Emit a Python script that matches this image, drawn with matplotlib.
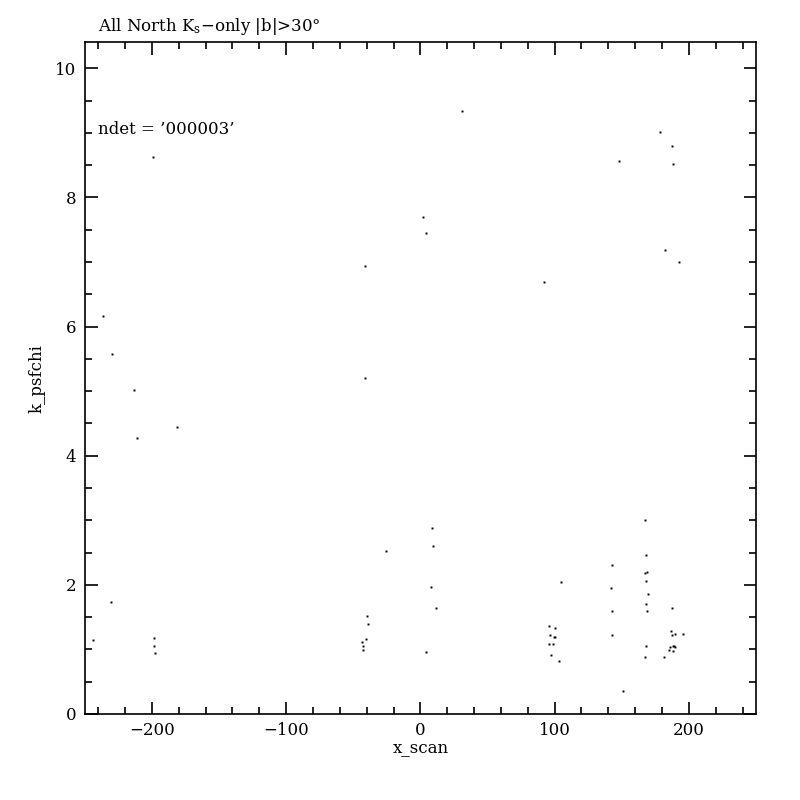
import matplotlib

# Use non-GUI backend
matplotlib.use('Agg')

import matplotlib.pyplot as plt
from matplotlib.ticker import MultipleLocator

# -----------------------------
# DATA
# -----------------------------

x_scan = [
    -236.6, -229.9, -213.4, -181.3, -211.2,
    -230.8, -244.0, -198.7, -198.7, -197.8, -199.5,
    9.0, 9.7, -25.4, 8.2, 11.9, -39.6, -38.8, -40.3, -43.3, -42.5, -42.5, 4.5,
    167.2, 167.7, 142.5, 167.2, 168.7, 104.5, 167.7, 142.0, 169.2, 167.7,
    142.5, 168.7, 187.3, 95.7, 100.0, 186.6, 96.3, 99.3, 100.0, 187.3,
    189.6, 195.5, 142.5, 95.5, 98.5, 167.7, 188.1, 188.8, 189.6, 185.8,
    185.1, 188.1, 97.0, 167.2, 181.3, 103.0, 150.7,
    31.3, 178.4, 187.3, 147.8, 188.1, 2.2, 4.5, 182.1, 192.5, 91.8,
    -41.0, -41.5,
]

k_psfchi = [
    6.17, 5.58, 5.02, 4.45, 4.28,
    1.73, 1.14, 1.18, 1.05, 0.94, 8.62,
    2.88, 2.60, 2.52, 1.96, 1.64, 1.51, 1.39, 1.16, 1.11, 1.05, 0.99, 0.96,
    3.00, 2.46, 2.31, 2.18, 2.20, 2.05, 2.06, 1.95, 1.86, 1.70,
    1.59, 1.59, 1.64, 1.36, 1.33, 1.28, 1.22, 1.20, 1.20, 1.22,
    1.24, 1.24, 1.22, 1.08, 1.08, 1.06, 1.06, 1.05, 1.03, 1.03,
    0.99, 0.97, 0.91, 0.88, 0.89, 0.82, 0.35,
    9.34, 9.02, 8.79, 8.57, 8.51, 7.70, 7.45, 7.19, 7.00, 6.69,
    6.93, 5.20,
]

title = "All North K$_\\mathregular{s}$\u2212only |b|>30\u00b0"
note = "ndet = \u2019000003\u2019"

plt.rcParams['font.family'] = ['DejaVu Serif']
plt.rcParams['mathtext.fontset'] = 'dejavuserif'

fig = plt.figure(figsize=(8, 8), dpi=100)
ax = fig.add_axes([0.106, 0.1075, 0.839, 0.8395])

ax.plot(x_scan, k_psfchi, linestyle='none', marker='s',
        markersize=1.4, markeredgewidth=0, color='black')

ax.set_xlim(-250, 250)
ax.set_ylim(0, 10.4)

ax.xaxis.set_major_locator(MultipleLocator(100))
ax.xaxis.set_minor_locator(MultipleLocator(20))
ax.yaxis.set_major_locator(MultipleLocator(2))
ax.yaxis.set_minor_locator(MultipleLocator(0.5))

ax.tick_params(which='both', direction='in', top=True, right=True,
               width=1.2, labelsize=12, pad=6)
ax.tick_params(which='major', length=9)
ax.tick_params(which='minor', length=5)

for spine in ax.spines.values():
    spine.set_linewidth(1.2)

ax.set_xlabel("x_scan", fontsize=12, labelpad=0)
ax.set_ylabel("k_psfchi", fontsize=12, labelpad=7)

ax.text(0.02, 1.008, title, transform=ax.transAxes,
        fontsize=12, ha='left', va='bottom')
ax.text(0.02, 0.87, note, transform=ax.transAxes,
        fontsize=12, ha='left', va='center')

fig.savefig("out.png", dpi=100)
plt.close(fig)
